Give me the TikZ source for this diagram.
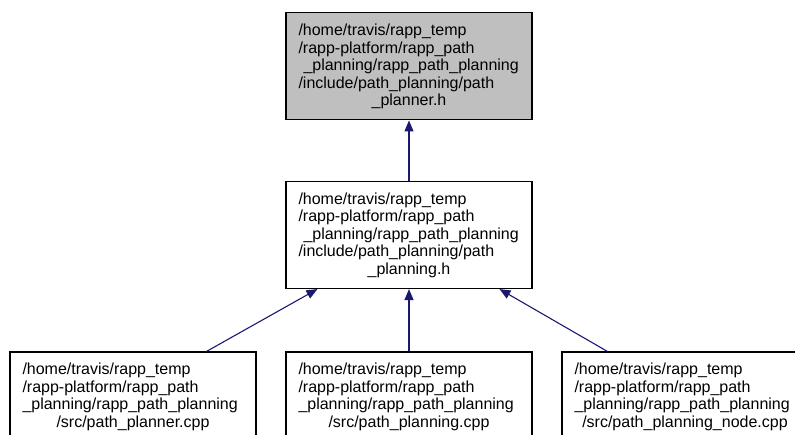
\documentclass[tikz,border=0pt]{standalone}
\usepackage{fontspec}
\setmainfont{Liberation Sans}
\usetikzlibrary{arrows.meta,calc}
\definecolor{edgeblue}{RGB}{25,25,112}
\definecolor{topgray}{RGB}{191,191,191}
\tikzset{
  filebox/.style={draw=black, line width=1.1pt, rectangle, minimum width=246pt,
    text width=221pt, inner xsep=12.5pt, inner ysep=0pt, align=left,
    font=\fontsize{16}{17.5}\selectfont},
  tallbox/.style={filebox, minimum height=107pt},
  shortbox/.style={filebox, minimum height=89.5pt},
  depedge/.style={draw=edgeblue, line width=1.1pt, -{Triangle[length=11pt,width=9pt]}},
}
\newcommand{\lastline}[1]{\makebox[\linewidth][c]{#1}}
\begin{document}
\begin{tikzpicture}[x=1pt,y=-1pt]
\useasboundingbox (0,0) rectangle (795,434);
\clip (0,0) rectangle (795,434);
\node[tallbox, fill=topgray] (top) at (409,66.4)
  {/home/travis/rapp\_temp\\/rapp-platform/rapp\_path\\\hspace*{5pt}\_planning/rapp\_path\_planning\\/include/path\_planning/path\\\lastline{\_planner.h}};
\node[tallbox, fill=white] (mid) at (409,235)
  {/home/travis/rapp\_temp\\/rapp-platform/rapp\_path\\\hspace*{5pt}\_planning/rapp\_path\_planning\\/include/path\_planning/path\\\lastline{\_planning.h}};
\node[shortbox, fill=white] (bl) at (133,396.75)
  {/home/travis/rapp\_temp\\/rapp-platform/rapp\_path\\\_planning/rapp\_path\_planning\\\lastline{/src/path\_planner.cpp}};
\node[shortbox, fill=white] (bm) at (409,396.75)
  {/home/travis/rapp\_temp\\/rapp-platform/rapp\_path\\\_planning/rapp\_path\_planning\\\lastline{/src/path\_planning.cpp}};
\node[shortbox, fill=white] (br) at (685,396.75)
  {/home/travis/rapp\_temp\\/rapp-platform/rapp\_path\\\_planning/rapp\_path\_planning\\\lastline{/src/path\_planning\_node.cpp}};
\draw[depedge] (mid.north) -- (top.south);
\draw[depedge] ($(bl.north west)+(197,0)$) -- ($(mid.south west)+(32,0)$);
\draw[depedge] (bm.north) -- (mid.south);
\draw[depedge] ($(br.north west)+(46,0)$) -- ($(mid.south west)+(214,0)$);
\end{tikzpicture}
\end{document}
